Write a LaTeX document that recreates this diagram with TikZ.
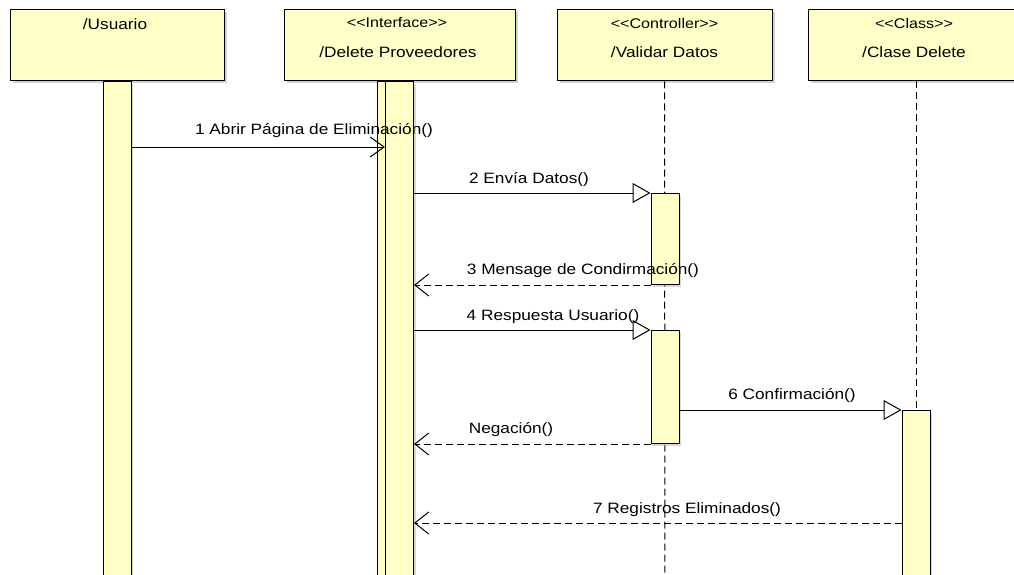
\documentclass[tikz,border=0pt]{standalone}
\usepackage{fontspec}
\setmainfont{Liberation Sans}[FakeStretch=1.15]
\usetikzlibrary{arrows.meta,shadows,positioning}

\definecolor{umlyellow}{RGB}{255,255,200}

\tikzset{
  head/.style={draw, fill=umlyellow, line width=1pt, minimum height=71pt, inner sep=0pt,
    drop shadow={shadow xshift=2.5pt, shadow yshift=-2.5pt, fill=black!35}},
  actbar/.style={draw, fill=umlyellow, line width=1pt, minimum width=28pt, inner sep=0pt, anchor=north,
    drop shadow={shadow xshift=2pt, shadow yshift=-2pt, fill=black!30}},
  lifeline/.style={line width=1pt, dash pattern=on 7pt off 4pt},
  callmsg/.style={line width=1pt, -{Triangle[open, length=18pt, width=20pt, fill=white]}},
  openmsg/.style={line width=1pt, -{Straight Barb[length=14pt, width=20pt]}},
  replymsg/.style={line width=1pt, dash pattern=on 7pt off 4pt, -{Straight Barb[length=14pt, width=22pt]}},
  lbl/.style={font=\fontsize{15}{17}\selectfont, inner sep=0pt},
  stereo/.style={font=\fontsize{14}{16}\selectfont, inner sep=0pt}
}

\begin{document}
\begin{tikzpicture}[x=1pt, y=-1pt]

  \useasboundingbox[fill=white] (0,0) rectangle (1014,575);
  \clip (0,0) rectangle (1014,575);

  % lifeline heads
  \node[head, minimum width=214pt] (usr) at (117,45.5) {};
  \node[head, minimum width=231pt] (ifc) at (399.5,45.5) {};
  \node[head, minimum width=215pt] (ctl) at (664.5,45.5) {};
  \node[head, minimum width=216pt] (cls) at (916,45.5) {};

  \node[lbl] (usrname) at (115,24) {/Usuario};
  \node[stereo] (ifcst) at (397,23) {<{}<Interface>{}>};
  \node[lbl] (ifcname) at (398,52) {/Delete Proveedores};
  \node[stereo] (ctlst) at (664.5,23) {<{}<Controller>{}>};
  \node[lbl] (ctlname) at (664.5,52) {/Validar Datos};
  \node[stereo] (clsst) at (914,23) {<{}<Class>{}>};
  \node[lbl] (clsname) at (914,52) {/Clase Delete};

  % dashed lifelines
  \coordinate (ctlend) at (665,585);
  \draw[lifeline] (ctl.south) -- (ctlend);

  % activation bars
  \node[actbar, minimum height=510pt] (ubar) at (usr.south) {};
  \node[actbar, minimum height=510pt] (ibar1) at ([xshift=-8pt]ifc.south) {};
  \node[actbar, minimum height=510pt] (ibar2) at (ifc.south) {};
  \node[actbar, minimum height=91pt] (cbarA) at (665,193) {};
  \node[actbar, minimum height=113pt] (cbarB) at (665,330) {};
  \node[actbar, minimum height=200pt] (kbar) at (916,410) {};
  \draw[lifeline] (cls.south) -- (kbar.north);

  % messages
  \draw[openmsg] (ubar.east |- 0,147) -- (ibar2.west |- 0,147);
  \draw[callmsg] (ibar2.east |- cbarA.north) -- (cbarA.north west);
  \draw[replymsg] (cbarA.south west) -- (ibar2.east |- cbarA.south);
  \draw[callmsg] (ibar2.east |- cbarB.north) -- (cbarB.north west);
  \draw[callmsg] (cbarB.east |- kbar.north) -- (kbar.north west);
  \draw[replymsg] (cbarB.south west) -- (ibar2.east |- cbarB.south);
  \draw[replymsg] (kbar.west |- 0,523) -- (ibar2.east |- 0,523);

  % message labels
  \node[lbl] (m1) at (314,131) {1 Abrir Página de Eliminación()};
  \node[lbl] (m2) at (529,180) {2 Envía Datos()};
  \node[lbl] (m3) at (583,271) {3 Mensage de Condirmación()};
  \node[lbl] (m4) at (553,317) {4 Respuesta Usuario()};
  \node[lbl] (m6) at (792,396) {6 Confirmación()};
  \node[lbl] (m5) at (511,430) {Negación()};
  \node[lbl] (m7) at (687,510) {7 Registros Eliminados()};

\end{tikzpicture}
\end{document}
